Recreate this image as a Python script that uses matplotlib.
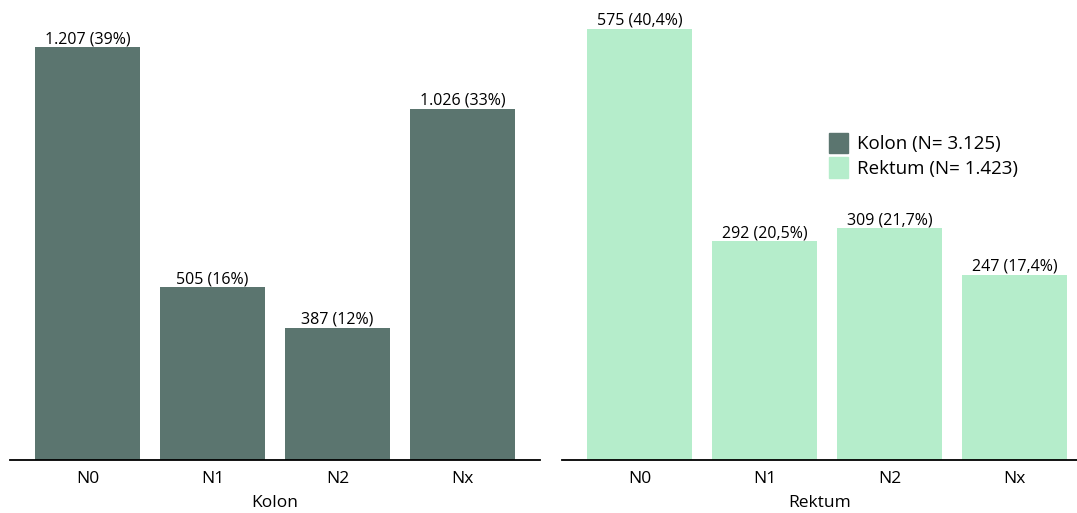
import matplotlib.pyplot as plt
from matplotlib.patches import Patch

plt.rcParams['font.family'] = ['Open Sans', 'DejaVu Sans']

stages = ['N0', 'N1', 'N2', 'Nx']
kolon = [1207, 505, 387, 1026]
rektum = [575, 292, 309, 247]

dark = '#5b756f'
light = '#b5edcb'


def fmt_kolon(v, total):
    n = f'{v:,}'.replace(',', '.')
    return f'{n} ({round(100 * v / total)}%)'


def fmt_rektum(v, total):
    p = f'{100 * v / total:.1f}'.replace('.', ',')
    return f'{v} ({p}%)'


def draw(ax, values, color, name, fmt, top, xmax):
    total = sum(values)
    x = range(len(stages))
    bars = ax.bar(x, values, width=0.84, color=color)
    for b, v in zip(bars, values):
        ax.text(b.get_x() + b.get_width() / 2, v, fmt(v, total),
                ha='center', va='bottom', fontsize=11.5)
    ax.set_xticks(list(x))
    ax.set_xticklabels(stages, fontsize=12.5)
    ax.tick_params(axis='x', length=0, pad=8)
    ax.set_yticks([])
    for s in ['top', 'right', 'left']:
        ax.spines[s].set_visible(False)
    ax.spines['bottom'].set_linewidth(1.3)
    ax.set_xlim(-0.62, xmax)
    ax.set_ylim(0, max(values) * top)
    ax.set_xlabel(name, fontsize=12.5, labelpad=6)
    return total


fig = plt.figure(figsize=(10.77, 5.13), dpi=100)
ax1 = fig.add_axes([10 / 1077, 53 / 513, 530 / 1077, 460 / 513])
ax2 = fig.add_axes([562 / 1077, 53 / 513, 515 / 1077, 460 / 513])

n1 = draw(ax1, kolon, dark, 'Kolon', fmt_kolon, 1.114, 3.62)
n2 = draw(ax2, rektum, light, 'Rektum', fmt_rektum, 1.067, 3.5)

handles = [Patch(color=dark), Patch(color=light)]
labels = [f'Kolon (N= {n1:,})'.replace(',', '.'), f'Rektum (N= {n2:,})'.replace(',', '.')]
fig.legend(handles, labels, loc='upper left', bbox_to_anchor=(812 / 1077, 1 - 116 / 513),
           frameon=False, fontsize=13.5, handlelength=1.0, handleheight=1.3,
           handletextpad=0.5, labelspacing=0.2)

fig.savefig('out.png', dpi=100)
